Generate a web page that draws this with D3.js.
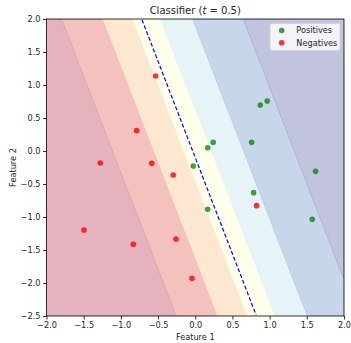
<!DOCTYPE html>
<html>
<head>
<meta charset="utf-8">
<script src="https://cdn.jsdelivr.net/npm/d3@7"></script>
<style>
  body { margin: 0; background: #fff; }
  text { font-family: "DejaVu Sans", sans-serif; fill: #262626; }
</style>
</head>
<body>
<svg id="chart" width="351" height="343"></svg>
<script>
// points
var posX = [0.874, 0.968, -0.027, 0.167, 0.242, 0.758, 1.618, 0.785, 0.167, 1.573];
var posY = [0.697, 0.758, -0.227, 0.05, 0.131, 0.131, -0.308, -0.631, -0.884, -1.035];
var negX = [-0.532, -0.788, -1.277, -0.586, -0.296, 0.825, -1.496, -0.833, -0.259, -0.044];
var negY = [1.136, 0.308, -0.182, -0.187, -0.364, -0.828, -1.197, -1.414, -1.333, -1.929];

// fitted logistic model (estimated from the band edges)
var weights = [1.61, 0.552];
var bias = 0.055;
var levels = [0, 0.15, 0.3, 0.45, 0.6, 0.75, 0.9, 1.05];
var threshold = 0.5;

var xTicks = [-2.0, -1.5, -1.0, -0.5, 0.0, 0.5, 1.0, 1.5, 2.0];
var yTicks = [-2.5, -2.0, -1.5, -1.0, -0.5, 0.0, 0.5, 1.0, 1.5, 2.0];
var xDomain = [-2, 2];
var yDomain = [-2.5, 2];

var margin = { left: 46.5, right: 7, top: 19, bottom: 27 };
var W = 351, H = 343;

var svg = d3.select("#chart");
var x = d3.scaleLinear().domain(xDomain).range([margin.left, W - margin.right]);
var y = d3.scaleLinear().domain(yDomain).range([H - margin.bottom, margin.top]);

svg.append("defs").append("clipPath").attr("id", "plotclip")
    .append("rect")
    .attr("x", x(xDomain[0])).attr("y", y(yDomain[1]))
    .attr("width", x(xDomain[1]) - x(xDomain[0]))
    .attr("height", y(yDomain[0]) - y(yDomain[1]));

// probability grid, sampled at cell centres
var nx = 200, ny = 225;
var dxs = (xDomain[1] - xDomain[0]) / nx, dys = (yDomain[1] - yDomain[0]) / ny;
var grid = new Array(nx * ny);
for (var j = 0; j < ny; j++) {
    var gy = yDomain[1] - (j + 0.5) * dys;
    for (var i = 0; i < nx; i++) {
        var gx = xDomain[0] + (i + 0.5) * dxs;
        grid[j * nx + i] = 1 / (1 + Math.exp(-(weights[0] * gx + weights[1] * gy + bias)));
    }
}

var toPixel = d3.geoTransform({
    point: function (gx, gy) {
        this.stream.point(x(xDomain[0] + gx * dxs), y(yDomain[1] - gy * dys));
    }
});
var path = d3.geoPath(toPixel);

// matplotlib-like RdYlBu: straight lines between the 11 brewer colours
var cmap = d3.piecewise(d3.interpolateRgb, d3.schemeRdYlBu[11]);
var nBands = levels.length - 1;
// colour norm spans the inner levels, outer bands clamp to the ends
var norm = d3.scaleLinear().domain([levels[1], levels[nBands - 1]]).range([0, 1]).clamp(true);
var alpha = 0.3;
function bandColor(k) {
    var mid = (levels[k] + levels[k + 1]) / 2;
    return d3.rgb(cmap(norm(mid)));
}
function blend(c) {
    return d3.rgb(255 - alpha * (255 - c.r), 255 - alpha * (255 - c.g), 255 - alpha * (255 - c.b));
}

var bandThresholds = levels.slice(0, nBands);
var bands = d3.contours().size([nx, ny]).thresholds(bandThresholds)(grid);

var plot = svg.append("g").attr("clip-path", "url(#plotclip)");

plot.selectAll(".band")
    .data(bands)
    .enter()
    .append("path")
    .attr("class", "band")
    .attr("d", path)
    .attr("fill", function (d, k) { return blend(bandColor(k)); })
    .attr("stroke", function (d, k) { return bandColor(k); })
    .attr("stroke-opacity", 0.18)
    .attr("stroke-width", 0.8);

// decision boundary, interior edge of the 0.5 contour only
var boundary = d3.contours().size([nx, ny]).thresholds([threshold])(grid);
plot.selectAll(".boundary")
    .data(boundary)
    .enter()
    .append("path")
    .attr("class", "boundary")
    .attr("d", function (d) {
        var out = [];
        d.coordinates.forEach(function (poly) {
            poly.forEach(function (ring) {
                var seg = [];
                ring.forEach(function (p) {
                    var onEdge = p[0] <= 0 || p[0] >= nx || p[1] <= 0 || p[1] >= ny;
                    if (!onEdge) seg.push([x(xDomain[0] + p[0] * dxs), y(yDomain[1] - p[1] * dys)]);
                    else if (seg.length) { out.push(seg); seg = []; }
                });
                if (seg.length) out.push(seg);
            });
        });
        var line = d3.line();
        return out.map(function (s) { return line(s); }).join("");
    })
    .attr("fill", "none")
    .attr("stroke", "#0000ff")
    .attr("stroke-width", 1.2)
    .attr("stroke-dasharray", "4,2.2");

// points
var positives = d3.range(posX.length).map(function (i) { return { x: posX[i], y: posY[i] }; });
var negatives = d3.range(negX.length).map(function (i) { return { x: negX[i], y: negY[i] }; });

plot.selectAll(".pos")
    .data(positives)
    .enter()
    .append("circle")
    .attr("class", "pos")
    .attr("cx", function (d) { return x(d.x); })
    .attr("cy", function (d) { return y(d.y); })
    .attr("r", 2.8)
    .attr("fill", "green")
    .attr("fill-opacity", 0.75);

plot.selectAll(".neg")
    .data(negatives)
    .enter()
    .append("circle")
    .attr("class", "neg")
    .attr("cx", function (d) { return x(d.x); })
    .attr("cy", function (d) { return y(d.y); })
    .attr("r", 2.8)
    .attr("fill", "red")
    .attr("fill-opacity", 0.8);

// axes
var fmt = function (d) { return d3.format(".1f")(d).replace("-", "\u2212"); };
svg.append("g")
    .attr("transform", "translate(0," + (H - margin.bottom) + ")")
    .call(d3.axisBottom(x).tickValues(xTicks).tickSize(3.5).tickPadding(2.5).tickFormat(fmt));
svg.append("g")
    .attr("transform", "translate(" + margin.left + ",0)")
    .call(d3.axisLeft(y).tickValues(yTicks).tickSize(3.5).tickPadding(2.5).tickFormat(fmt));
svg.selectAll(".domain").remove();
svg.selectAll(".tick line").attr("stroke", "#000").attr("stroke-width", 0.8);
svg.selectAll(".tick text").attr("font-size", 8.2).attr("fill", "#262626")
    .attr("font-family", "DejaVu Sans");

// frame
svg.append("rect")
    .attr("x", x(xDomain[0])).attr("y", y(yDomain[1]))
    .attr("width", x(xDomain[1]) - x(xDomain[0]))
    .attr("height", y(yDomain[0]) - y(yDomain[1]))
    .attr("fill", "none").attr("stroke", "#000").attr("stroke-width", 0.8);

// labels
var title = svg.append("text")
    .attr("x", (x(xDomain[0]) + x(xDomain[1])) / 2)
    .attr("y", 13.5)
    .attr("text-anchor", "middle")
    .attr("font-size", 10);
title.append("tspan").text("Classifier (");
title.append("tspan").attr("font-style", "italic").text("t");
title.append("tspan").text(" = 0.5)");

svg.append("text")
    .attr("x", (x(xDomain[0]) + x(xDomain[1])) / 2)
    .attr("y", 339.5)
    .attr("text-anchor", "middle")
    .attr("font-size", 8.2)
    .text("Feature 1");

svg.append("text")
    .attr("transform", "translate(15.5," + (y(yDomain[0]) + y(yDomain[1])) / 2 + ") rotate(-90)")
    .attr("text-anchor", "middle")
    .attr("font-size", 8.2)
    .text("Feature 2");

// legend
var legend = svg.append("g");
legend.append("rect")
    .attr("x", 270).attr("y", 23.5)
    .attr("width", 70).attr("height", 27)
    .attr("rx", 2)
    .attr("fill", "#fff").attr("fill-opacity", 0.8)
    .attr("stroke", "#d0d0d0").attr("stroke-width", 0.8);
var legendItems = [{ label: "Positives", color: "green", op: 0.75 }, { label: "Negatives", color: "red", op: 0.8 }];
legend.selectAll(".item")
    .data(legendItems)
    .enter()
    .append("g")
    .attr("transform", function (d, i) { return "translate(0," + (30.5 + i * 12.3) + ")"; })
    .each(function (d) {
        var g = d3.select(this);
        g.append("circle").attr("cx", 281.7).attr("cy", 0).attr("r", 2.8)
            .attr("fill", d.color).attr("fill-opacity", d.op);
        g.append("text").attr("x", 296.3).attr("y", 2.9).attr("font-size", 8.2).text(d.label);
    });
</script>
</body>
</html>
